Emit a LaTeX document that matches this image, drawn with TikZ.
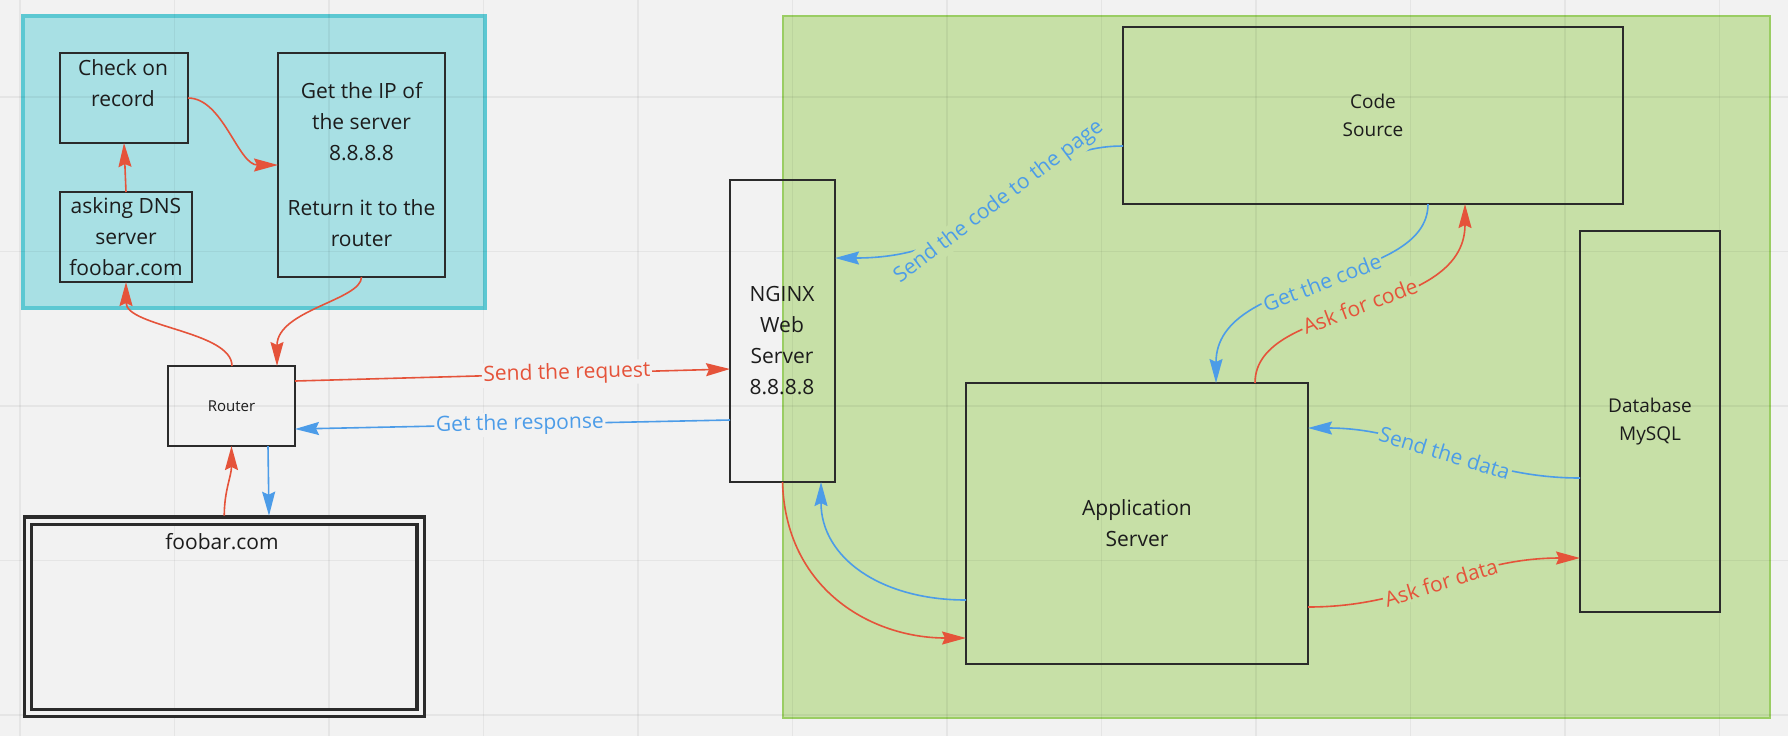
\documentclass[tikz,border=0pt]{standalone}
\usepackage{fontspec}
\setmainfont{Open Sans}
\usetikzlibrary{arrows.meta,calc}
\definecolor{bgc}{HTML}{F2F2F2}
\definecolor{cfill}{HTML}{A8E0E4}
\definecolor{cborder}{HTML}{5CC8D2}
\definecolor{gfill}{HTML}{C7E0A7}
\definecolor{gborder}{HTML}{9ACD63}
\definecolor{mred}{HTML}{E5533A}
\definecolor{mblue}{HTML}{4C9CE8}
\definecolor{dark}{HTML}{2B2B2B}
\definecolor{txt}{HTML}{1C1C1C}
\newcommand\fbig{\fontsize{10.5}{15.5}\selectfont}
\newcommand\fmid{\fontsize{9.5}{14}\selectfont}
\newcommand\fsmall{\fontsize{7.5}{8.5}\selectfont}
\tikzset{
  box/.style={draw=dark, line width=1pt, inner sep=0pt, outer sep=0pt, align=center, text=txt},
  txtnode/.style={align=center, text=txt, inner sep=0pt},
  gridline/.style={draw=black, draw opacity=0.05, line width=0.75pt},
  redarrow/.style={draw=mred, line width=0.8pt, -{Stealth[length=12pt,width=6.5pt,inset=1.5pt]}},
  bluearrow/.style={draw=mblue, line width=0.8pt, -{Stealth[length=12pt,width=6.5pt,inset=1.5pt]}},
  lbl/.style={font=\fbig, inner sep=0.8pt, sloped}
}
\begin{document}
\begin{tikzpicture}[x=0.5pt,y=-0.5pt]
\fill[bgc] (0,0) rectangle (1788,736);
\useasboundingbox (0,0) rectangle (1788,736);
% areas
\node[draw=cborder, fill=cfill, line width=2pt, inner sep=0pt, outer sep=0pt,
      minimum width=231pt, minimum height=146pt] (dnsarea) at (254,162) {};
\node[draw=gborder, fill=gfill, line width=1pt, inner sep=0pt, outer sep=0pt,
      minimum width=493.5pt, minimum height=351pt] (serverarea) at (1276.5,367) {};
% grid
\foreach \i in {0,...,11} \draw[gridline] ({20+154.5*\i},0) -- ({20+154.5*\i},736);
\foreach \j in {0,...,4} \draw[gridline] (0,{97+154.5*\j}) -- (1788,{97+154.5*\j});
% boxes
\node[box, minimum width=64pt, minimum height=45pt] (check) at (124,98) {};
\node[txtnode, font=\fbig] (checktxt) at (123,83.5) {Check on\\record};
\node[box, font=\fbig, minimum width=66pt, minimum height=45pt] (ask) at (126,237) {asking DNS\\server\\foobar.com};
\node[box, font=\fbig, minimum width=83.5pt, minimum height=112pt] (getip) at (361.5,165) {Get the IP of\\the server\\8.8.8.8\\[12pt]Return it to the\\router};
\node[box, font=\fsmall, minimum width=63.5pt, minimum height=40pt] (router) at (231.5,406) {Router};
\node[draw=dark, double=bgc, double distance=2pt, line width=1.65pt, inner sep=0pt, outer sep=0pt,
      minimum width=196.25pt, minimum height=96.15pt] (foobar) at (224.25,616.85) {};
\node[txtnode, font=\fbig] (foobartxt) at (222,542) {foobar.com};
\node[box, minimum width=52.5pt, minimum height=151pt] (nginx) at (782.5,331) {};
\node[txtnode, font=\fbig] (nginxtxt) at (782,341) {NGINX\\Web\\Server\\8.8.8.8};
\node[box, font=\fmid, minimum width=250pt, minimum height=88.5pt] (cs) at (1373,115.5) {Code\\Source};
\node[box, font=\fmid, minimum width=70pt, minimum height=190.5pt] (db) at (1650,421.5) {Database\\MySQL};
\node[box, font=\fbig, minimum width=171pt, minimum height=140.5pt] (app) at (1137,523.5) {Application\\Server};
% DNS connectors
\draw[redarrow] (ask.north) -- (check.south);
\draw[redarrow] (check.east) .. controls +(35,0) and +(-40,0) .. (getip.west);
\draw[redarrow] (getip.south) .. controls +(0,23) and +(0,-56) .. ($(router.north west)+(109,0)$);
\draw[redarrow] ($(router.north west)+(64,0)$) .. controls +(0,-35) and +(0,45) .. (ask.south);
\draw[redarrow] ($(foobar.north)+(0,-5)$) .. controls +(0,-25) and +(0,30) .. (router.south);
\draw[bluearrow] ($(router.south west)+(100,0)$) -- ($(foobar.north west)+(241,-5)$);
% router <-> nginx
\draw[redarrow] ($(router.north east)+(0,15)$) -- node[lbl, fill=bgc, text=mred, pos=0.625] {Send the request} ($(nginx.north west)+(0,189)$);
\draw[bluearrow] ($(nginx.north west)+(0,240)$) -- node[lbl, fill=bgc, text=mblue, pos=0.483] {Get the response} ($(router.north east)+(0,63)$);
% server area
\draw[bluearrow] ($(cs.north west)+(0,119)$) .. controls +(-113,0) and +(166,0) .. node[lbl, fill=gfill, text=mblue] {Send the code to the page} ($(nginx.north east)+(0,78)$);
\draw[bluearrow] ($(cs.south west)+(305,0)$) .. controls +(0,83) and +(0,-112) .. node[lbl, fill=gfill, text=mblue] {Get the code} ($(app.north west)+(250,0)$);
\draw[redarrow] ($(app.north west)+(289,0)$) .. controls +(0,-83) and +(0,116) .. node[lbl, fill=gfill, text=mred] {Ask for code} ($(cs.south west)+(342,0)$);
\draw[bluearrow] ($(db.north west)+(0,247)$) .. controls +(-107,0) and +(109,0) .. node[lbl, fill=gfill, text=mblue] {Send the data} ($(app.north east)+(0,45)$);
\draw[redarrow] ($(app.north east)+(0,224)$) .. controls +(109,0) and +(-117,0) .. node[lbl, fill=gfill, text=mred] {Ask for data} ($(db.north west)+(0,327)$);
\draw[redarrow] (nginx.south) .. controls +(3,107) and +(-95,0) .. ($(app.north west)+(0,255)$);
\draw[bluearrow] ($(app.north west)+(0,217)$) .. controls +(-85,0) and +(0,76) .. ($(nginx.south west)+(91,0)$);
\end{tikzpicture}
\end{document}
